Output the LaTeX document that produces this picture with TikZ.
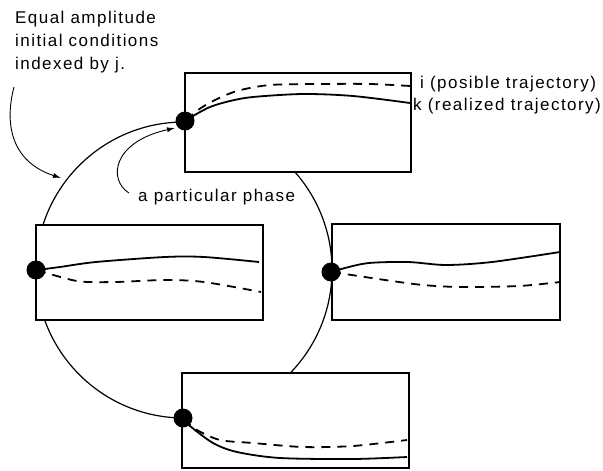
\documentclass[tikz,border=0pt]{standalone}
\usepackage{fontspec}
\setmainfont{Liberation Sans}[LetterSpace=8.5]
\usetikzlibrary{arrows.meta}
\tikzset{
  panel/.style={draw, line width=1.6pt, fill=white, inner sep=0pt},
  phasedot/.style={circle, fill=black, inner sep=0pt, minimum size=19pt},
  realized/.style={line width=1.8pt, line join=round},
  possible/.style={line width=1.8pt, dash pattern=on 9pt off 7pt},
  label/.style={inner sep=0pt, font=\fontsize{17}{23}\selectfont},
  pointer/.style={line width=0.9pt, -{Latex[length=8pt,width=5pt]}},
}
\begin{document}
\begin{tikzpicture}[x=1pt,y=-1pt]
\useasboundingbox (0,0) rectangle (603,471);
% orbit circle
\coordinate (c) at (184,270);
\draw[line width=1.2pt] (c) circle[radius=148];
% panels
\node[panel, minimum width=226pt, minimum height=99pt] (ptop) at (298,122.5) {};
\node[panel, minimum width=227pt, minimum height=95pt] (pleft) at (149.5,272.5) {};
\node[panel, minimum width=228pt, minimum height=96pt] (pright) at (446,272) {};
\node[panel, minimum width=227pt, minimum height=95pt] (pbot) at (295.5,420.5) {};
% trajectories top
\draw[possible] plot[smooth] coordinates {(186,120) (198,110) (213,101) (237,91) (270,85) (320,84) (370,84) (410,86)};
\draw[realized] plot[smooth] coordinates {(186,121) (193,116) (210,107) (230,101) (253,97) (303,94) (353,96) (410,103)};
% trajectories left
\draw[realized] plot[smooth] coordinates {(37,270) (60,267) (96,262) (165,257) (204,257) (259,262)};
\draw[possible] plot[smooth] coordinates {(37,270) (77,281) (115,282) (165,280) (204,282) (261,292)};
% trajectories right
\draw[realized] plot[smooth] coordinates {(332,272) (345,268) (369,263) (408,262) (446,265) (492,262) (560,252)};
\draw[possible] plot[smooth] coordinates {(332,272) (385,280) (423,285) (461,287) (519,286) (560,282)};
% trajectories bottom
\draw[possible] plot[smooth] coordinates {(184,419) (197,430) (220,440) (253,443) (303,447) (353,446) (407,440)};
\draw[realized] plot[smooth] coordinates {(184,419) (190,426) (213,443) (237,452) (280,458) (353,459) (407,457)};
% phase dots
\node[phasedot] (dtop) at (185,121) {};
\node[phasedot] (dleft) at (36,270) {};
\node[phasedot] (dright) at (331,272) {};
\node[phasedot] (dbot) at (183,418) {};
% labels
\node[label, anchor=base west, align=left] (eq) at (15,69) {Equal amplitude\\initial conditions\\indexed by j.};
\node[label, anchor=base west] (li) at (420,88) {i (posible trajectory)};
\node[label, anchor=base west] (lk) at (413,110) {k (realized trajectory)};
\node[label, anchor=base west] (lph) at (138,201) {a particular phase};
% pointers
\coordinate (s1) at (14,87);
\coordinate (e1) at (61,178);
\draw[pointer] (s1) .. controls (4,125) and (12,162) .. (e1);
\coordinate (s2) at (129,193);
\coordinate (e2) at (175,128);
\draw[pointer] (s2) .. controls (108,180) and (112,142) .. (e2);
\end{tikzpicture}
\end{document}
